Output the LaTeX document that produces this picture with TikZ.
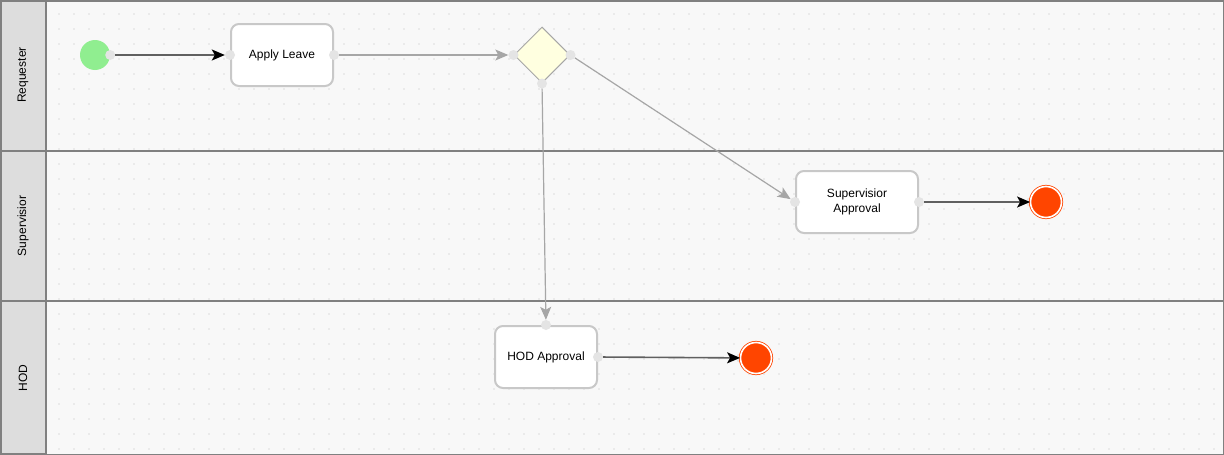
\documentclass[tikz,border=0pt]{standalone}
\usepackage{fontspec}
\setmainfont{Liberation Sans}
\usetikzlibrary{arrows.meta, shapes.geometric}
\definecolor{clane}{HTML}{DDDDDD}
\definecolor{cborder}{HTML}{808080}
\definecolor{cbg}{HTML}{F8F8F8}
\definecolor{cbox}{HTML}{C8C8C8}
\definecolor{cport}{HTML}{E4E4E4}
\definecolor{cstart}{HTML}{90EE90}
\definecolor{cend}{HTML}{FF4500}
\definecolor{cgate}{HTML}{FFFFE0}
\definecolor{cedge}{HTML}{A6A6A6}
\definecolor{cdot}{HTML}{BDBDBD}
\definecolor{cflow}{HTML}{606060}

\begin{document}
\begin{tikzpicture}[
  x=1pt, y=-1pt,
  lanehead/.style={
    draw=cborder, fill=clane, line width=1.2pt
  },
  lanetext/.style={
    rotate=90, font=\fontsize{12}{14}\selectfont
  },
  startevent/.style={
    circle, fill=cstart, minimum size=30pt, inner sep=0pt
  },
  endevent/.style={
    circle, fill=cend, draw=cend, line width=0.8pt, double=white,
    double distance=1.6pt, minimum size=31pt, inner sep=0pt
  },
  task/.style={
    rectangle, rounded corners=8pt, draw=cbox, fill=white,
    line width=2pt, minimum width=102pt, minimum height=62pt,
    align=center, font=\fontsize{12}{15}\selectfont
  },
  gateway/.style={
    diamond, draw=cedge, fill=cgate, line width=1pt,
    minimum width=56pt, minimum height=56pt, inner sep=0pt
  },
  port/.style={
    circle, fill=cport, minimum size=10pt, inner sep=0pt
  },
  seqflow/.style={
    -{Stealth[length=13pt, width=11pt, inset=3pt, color=black]},
    draw=cflow, line width=1.6pt
  },
  gateflow/.style={
    -{Stealth[length=13pt, width=11pt, inset=3pt]},
    draw=cedge, line width=1.2pt
  }
]
\useasboundingbox (0,0) rectangle (1224,455);

% ============================================================
% Pool: background, dot grid, lane headers
% ============================================================
\fill[cbg] (46,0) rectangle (1224,455);
\foreach \gx in {59,74,...,1220} {
  \foreach \gy in {14,29,...,450} {
    \fill[cdot] (\gx,\gy) circle (0.7pt);
  }
}

\draw[lanehead] (0,0) rectangle (46,151);
\draw[lanehead] (0,151) rectangle (46,301);
\draw[lanehead] (0,301) rectangle (46,454);
\draw[cborder, line width=1.2pt] (46,151) -- (1224,151);
\draw[cborder, line width=1.2pt] (46,301) -- (1224,301);
\draw[cborder, line width=1.5pt] (0.75,0.75) rectangle (1223.25,454.25);

\node[lanetext] (lreq) at (23,75) {Requester};
\node[lanetext] (lsup) at (23,226) {Supervisior};
\node[lanetext] (lhod) at (23,378) {HOD};

% ============================================================
% Requester lane
% ============================================================
\node[startevent] (start) at (95,55) {};
\node[task] (apply) at (282,55) {Apply Leave};
\node[gateway] (gate) at (542,55) {};

% ============================================================
% Supervisior and HOD lanes
% ============================================================
\node[task, minimum width=122pt] (supapp) at (857,202) {Supervisior\\Approval};
\node[task] (hodapp) at (546,357) {HOD Approval};

\node[port] (end1in) at (1031,202) {};
\node[port] (end2in) at (741,358) {};
\node[endevent] (end1) at (1046,202) {};
\node[endevent] (end2) at (756,358) {};

% ports on the shapes
\node[port] (startout) at (start.east) {};
\node[port] (applyin) at (apply.west) {};
\node[port] (applyout) at (apply.east) {};
\node[port] (gatein) at (gate.west) {};
\node[port] (gateright) at (gate.east) {};
\node[port] (gatedown) at (gate.south) {};
\node[port] (supin) at (supapp.west) {};
\node[port] (supout) at (supapp.east) {};
\node[port] (hodin) at (hodapp.north) {};
\node[port] (hodout) at (hodapp.east) {};

% ============================================================
% Sequence flows
% ============================================================
\draw[seqflow] (startout) -- (applyin);
\draw[gateflow] (applyout) -- (gatein);
\draw[gateflow] (gateright) -- (supin);
\draw[gateflow] (gatedown) -- (hodin);
\draw[seqflow] (supout) -- (end1);
\draw[seqflow] (hodout) -- (end2);

\end{tikzpicture}
\end{document}
